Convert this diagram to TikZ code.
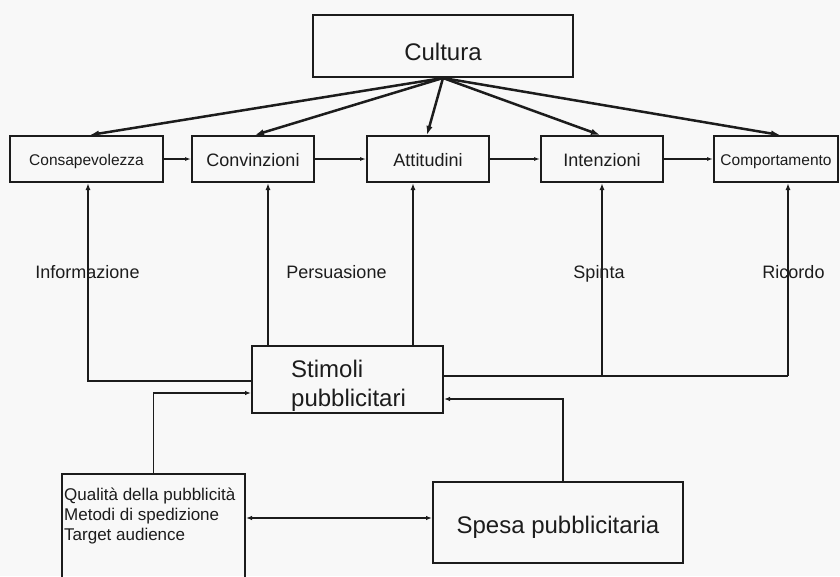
\documentclass[tikz,border=0pt]{standalone}
\usepackage{fontspec}
\setmainfont{Liberation Sans}
\usetikzlibrary{arrows.meta}
\definecolor{ink}{RGB}{28,28,28}
\definecolor{bg}{RGB}{248,248,248}
\begin{document}
\begin{tikzpicture}[x=1pt,y=-1pt,
  box/.style={draw=ink, line width=2pt, inner sep=0pt, text=ink, rectangle},
  big/.style={font=\fontsize{24}{29}\selectfont},
  mid/.style={font=\fontsize{18}{21}\selectfont, text height=18pt, text depth=2.7pt},
  small/.style={font=\fontsize{15.5}{18}\selectfont, text height=15.5pt, text depth=2.3pt},
  lbl/.style={text=ink, inner sep=0pt, anchor=base, font=\fontsize{18}{21}\selectfont},
  cularrow/.style={draw=ink, line width=2.5pt, -{Latex[length=9pt,width=6.5pt]}},
  chain/.style={draw=ink, line width=1.1pt, -{Latex[length=6pt,width=4pt]}},
  feed/.style={draw=ink, line width=2pt, -{Latex[length=7pt,width=5pt]}},
  link/.style={draw=ink, line width=1.7pt, -{Latex[length=6pt,width=4.5pt]}}]
\fill[bg] (0,0) rectangle (840,576);
\useasboundingbox (0,0) rectangle (840,576);

% top box
\node[box, big, text height=28.8pt, text depth=0pt, minimum width=260pt, minimum height=62pt] (cul) at (443,46) {Cultura};

% chain of boxes
\node[box, small, minimum width=153pt, minimum height=46pt] (con) at (86.5,159) {Consapevolezza};
\node[box, mid, minimum width=122pt, minimum height=46pt] (cvz) at (253,159) {Convinzioni};
\node[box, mid, minimum width=122pt, minimum height=46pt] (att) at (428,159) {Attitudini};
\node[box, mid, minimum width=122pt, minimum height=46pt] (int) at (602,159) {Intenzioni};
\node[box, small, minimum width=124pt, minimum height=46pt] (com) at (776,159) {Comportamento};

% stimuli
\node[box, minimum width=191pt, minimum height=67pt] (sti) at (347.5,379.5) {};
\node[anchor=north west, inner sep=0pt, align=left, text=ink, big] (stitxt) at (291,359.5) {Stimoli\\pubblicitari};

% bottom boxes
\node[box, minimum width=183pt, minimum height=120pt] (qual) at (153.5,534) {};
\node[anchor=north west, inner sep=0pt, align=left, text=ink, font=\fontsize{17}{20}\selectfont] (qualtxt) at (64,488) {Qualità della pubblicità\\Metodi di spedizione\\Target audience};
\node[box, big, text height=24pt, text depth=3pt, minimum width=250pt, minimum height=81pt] (spe) at (558,522.5) {Spesa pubblicitaria};

% culture arrows
\draw[cularrow] (cul.south) -- ([xshift=3.5pt]con.north);
\draw[cularrow] (cul.south) -- ([xshift=2pt]cvz.north);
\draw[cularrow] (cul.south) -- ([xshift=-1pt]att.north);
\draw[cularrow] (cul.south) -- ([xshift=-2pt]int.north);
\draw[cularrow] (cul.south) -- ([xshift=4pt]com.north);

% chain arrows
\draw[chain] (con.east) -- (cvz.west);
\draw[chain] (cvz.east) -- (att.west);
\draw[chain] (att.east) -- (int.west);
\draw[chain] (int.east) -- (com.west);

% feedback lines from stimuli
\draw[feed] ([yshift=-1.5pt]sti.west) -| ([xshift=1.5pt]con.south);
\draw[feed] ([xshift=15pt]cvz.south |- sti.north) -- ([xshift=15pt]cvz.south);
\draw[feed] ([xshift=-15pt]att.south |- sti.north) -- ([xshift=-15pt]att.south);
\draw[draw=ink, line width=2pt] ([yshift=3.5pt]sti.east) -- ([yshift=3.5pt,xshift=12pt]com.south |- sti.east);
\draw[feed] ([yshift=3.5pt]int.south |- sti.east) -- (int.south);
\draw[feed] ([yshift=3.5pt,xshift=12pt]com.south |- sti.east) -- ([xshift=12pt]com.south);

% labels
\node[lbl] (linf) at (87.5,278) {Informazione};
\node[lbl] (lper) at (336.5,278) {Persuasione};
\node[lbl] (lspi) at (599,278) {Spinta};
\node[lbl] (lric) at (793.5,278) {Ricordo};

% inputs to stimuli
\draw[link] (qual.north) |- ([yshift=-13.5pt]sti.west);
\draw[link] ([xshift=5pt]spe.north) |- ([yshift=-19.5pt]sti.east);
\draw[draw=ink, line width=1.7pt, {Latex[length=6pt,width=4.5pt]}-{Latex[length=6pt,width=4.5pt]}] ([yshift=4.5pt]qual.east |- spe.west) -- ([yshift=4.5pt]spe.west);
\end{tikzpicture}
\end{document}
